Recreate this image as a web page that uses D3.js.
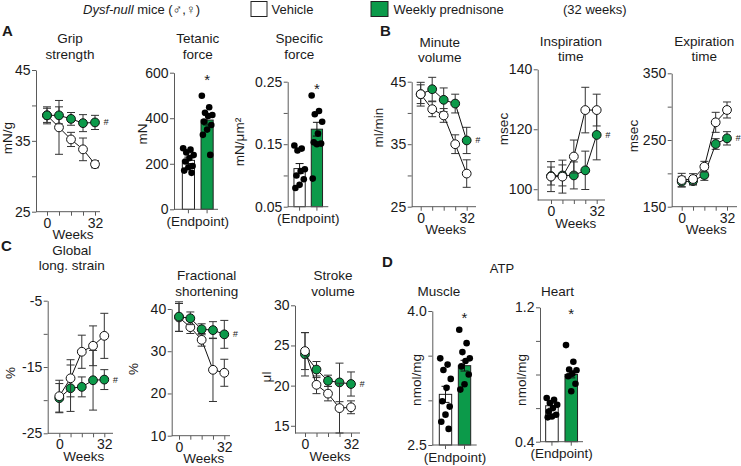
<!DOCTYPE html>
<html><head><meta charset="utf-8">
<script src="https://cdn.jsdelivr.net/npm/d3@7"></script>
<style>
body{margin:0;background:#fff}
svg{display:block}
text{font-family:"Liberation Sans",Arial,Helvetica,sans-serif;fill:#1a1a1a}
</style>
</head><body>
<svg id="c" width="741" height="466"></svg>
<script>
// ---------------- DATA ----------------
const weeks = [0, 8, 16, 24, 32];
const weekLabels = [0, 32];
const groups = ["Vehicle", "Weekly prednisone"];

// Panel A - grip strength (mN/g)
const gripVeh = [38.6, 36.9, 35.2, 33.8, 31.7];
const gripVehErr = [1.2, 3.8, 1.0, 1.6, 0.5];
const gripPred = [38.6, 38.6, 38.1, 37.5, 37.6];
const gripPredErr = [1.0, 1.2, 0.9, 1.2, 1.0];

// Panel A - tetanic force (mN), endpoint
const tetMeans = [215, 392];
const tetErr = [14, 22];
const tetVehPts = [268, 262, 250, 238, 225, 210, 190, 185, 170, 160];
const tetPredPts = [499, 448, 424, 414, 410, 385, 370, 350, 327, 239];

// Panel A - specific force (mN/um2), endpoint
const specMeans = [0.111, 0.174];
const specErr = [0.008, 0.011];
const specVehPts = [0.148, 0.143, 0.140, 0.110, 0.107, 0.100, 0.094, 0.085, 0.080];
const specPredPts = [0.228, 0.203, 0.198, 0.186, 0.167, 0.153, 0.151, 0.150, 0.095];

// Panel B - minute volume (ml/min)
const mvVeh = [43.0, 40.6, 39.6, 35.0, 30.3];
const mvVehErr = [1.9, 1.2, 1.1, 1.5, 2.2];
const mvPred = [43.0, 43.8, 42.1, 41.5, 35.6];
const mvPredErr = [1.5, 1.9, 1.9, 1.5, 2.1];

// Panel B - inspiration time (msec)
const inspVeh = [104.2, 104.2, 110.9, 126.4, 126.4];
const inspVehErr = [5.0, 5.5, 5.5, 7.6, 5.3];
const inspPred = [104.4, 104.6, 104.6, 106.3, 118.1];
const inspPredErr = [3.0, 3.5, 4.5, 6.4, 8.3];

// Panel B - expiration time (msec)
const expVeh = [190, 191.5, 210, 276.5, 295];
const expVehErr = [10, 8, 8, 15, 12];
const expPred = [187.5, 188.5, 197.5, 244, 252.5];
const expPredErr = [8, 6, 8, 8, 10];

// Panel C - global longitudinal strain (%)
const glsVeh = [-19.4, -16.7, -12.7, -11.8, -10.3];
const glsVehErr = [2.4, 2.8, 2.5, 3.0, 3.4];
const glsPred = [-19.7, -18.2, -18.0, -17.0, -16.9];
const glsPredErr = [2.2, 3.5, 1.5, 4.5, 1.5];

// Panel C - fractional shortening (%)
const fsVeh = [38.0, 35.7, 32.7, 25.6, 24.9];
const fsVehErr = [3.3, 1.5, 1.5, 7.5, 3.2];
const fsPred = [38.2, 37.8, 35.2, 35.0, 34.0];
const fsPredErr = [3.5, 1.5, 1.3, 2.0, 3.3];

// Panel C - stroke volume (ul)
const svVeh = [24.3, 20.1, 19.0, 17.2, 17.3];
const svVehErr = [2.3, 1.1, 0.9, 3.1, 0.8];
const svPred = [23.9, 22.0, 20.6, 20.4, 20.2];
const svPredErr = [2.7, 1.0, 0.7, 2.4, 1.5];

// Panel D - ATP muscle / heart (nmol/mg), endpoint
const muscleMeans = [3.067, 3.388];
const muscleErr = [0.09, 0.06];
const muscleVehPts = [3.47, 3.40, 3.34, 3.24, 3.14, 2.99, 2.93, 2.84, 2.76, 2.68];
const musclePredPts = [3.79, 3.64, 3.54, 3.47, 3.44, 3.38, 3.29, 3.18, 3.12];
const heartMeans = [0.614, 0.80];
const heartErr = [0.015, 0.02];
const heartVehPts = [0.66, 0.65, 0.63, 0.62, 0.60, 0.58, 0.56, 0.55, 0.545];
const heartPredPts = [0.975, 0.876, 0.83, 0.825, 0.805, 0.79, 0.745, 0.70];

// ---------------- DRAWING ----------------
const svg = d3.select("#c");
const GREEN = "#0c9a4a";
const AXC = "#5a5a5a";
const FONT = "'Liberation Sans', Arial, Helvetica, sans-serif";

function styleAxis(gg) {
  gg.attr("font-family", null).attr("font-size", null);
  gg.selectAll("path,line").attr("stroke", AXC).attr("stroke-width", 1);
  gg.selectAll("text").attr("fill", "#1a1a1a").style("font-size", "14px").style("font-family", FONT);
}
function txt(x, y, s, size, anchor) {
  return svg.append("text").attr("x", x).attr("y", y).attr("text-anchor", anchor || "middle")
    .style("font-size", size + "px").text(s);
}
function title(lines, x, y, lh) {
  const t = svg.append("text").attr("text-anchor", "middle").style("font-size", "13.5px");
  lines.forEach((l, i) => t.append("tspan").attr("x", x).attr("y", y + i * (lh || 15.5)).text(l));
}
function ylab(s, x, y) {
  svg.append("text").attr("transform", `translate(${x},${y}) rotate(-90)`)
    .attr("text-anchor", "middle").style("font-size", "13.5px").text(s);
}
function yAxis(y, ax, major, minor, fmt) {
  const a = d3.axisLeft(y).tickValues(major.concat(minor)).tickSize(4).tickSizeOuter(0).tickPadding(1.5)
    .tickFormat(d => major.includes(d) ? fmt(d) : "");
  styleAxis(svg.append("g").attr("transform", `translate(${ax},0)`).call(a));
}

function linePanel(c) {
  const y = d3.scaleLinear().domain(c.domain).range([c.yb, c.yt]);
  const x = d3.scaleLinear().domain([0, 32]).range([c.x0, c.x32]);
  title(c.title, (c.x0 + c.x32) / 2 + (c.tdx || 0), c.ty, c.lh);
  ylab(c.ylabel, c.lx, c.ly);
  yAxis(y, c.ax, c.major, c.minor, c.fmt || (d => String(d)));
  svg.append("line").attr("x1", c.ax).attr("x2", c.xr).attr("y1", c.yb).attr("y2", c.yb).attr("stroke", AXC);
  const xa = d3.axisBottom(x).tickValues(weeks).tickSize(4).tickSizeOuter(0).tickPadding(2)
    .tickFormat(d => weekLabels.includes(d) ? String(d) : "");
  const gx = svg.append("g").attr("transform", `translate(0,${c.yb})`).call(xa);
  gx.select(".domain").remove();
  styleAxis(gx);
  txt((c.x0 + c.x32) / 2 + 2, c.yb + (c.wdy || 27.5), "Weeks", 13.5);

  const draw = (vals, errs, fill) => {
    const s = svg.append("g");
    s.selectAll("path.eb").data(vals).join("path").attr("class", "eb")
      .attr("d", (v, i) => {
        const cx = x(weeks[i]), t = y(v + errs[i]), b = y(v - errs[i]);
        return `M${cx},${t}V${b}M${cx - 4},${t}H${cx + 4}M${cx - 4},${b}H${cx + 4}`;
      }).attr("stroke", "#333").attr("fill", "none").attr("stroke-width", 1);
    s.append("path").datum(vals)
      .attr("d", d3.line().x((v, i) => x(weeks[i])).y(v => y(v)))
      .attr("stroke", "#111").attr("fill", "none").attr("stroke-width", 1);
    s.selectAll("circle").data(vals).join("circle")
      .attr("cx", (v, i) => x(weeks[i])).attr("cy", v => y(v)).attr("r", 4.4)
      .attr("fill", fill).attr("stroke", "#111").attr("stroke-width", 1);
  };
  if (c.greenTop) { draw(c.veh, c.vehErr, "#fff"); draw(c.pred, c.predErr, GREEN); }
  else { draw(c.pred, c.predErr, GREEN); draw(c.veh, c.vehErr, "#fff"); }
  const last = c.pred[c.pred.length - 1];
  svg.append("text").attr("x", x(32) + 11).attr("y", y(last) + 3).attr("text-anchor", "middle")
    .style("font-size", "9px").style("font-style", "italic").text("#");
}

function barPanel(c) {
  const y = d3.scaleLinear().domain(c.domain).range([c.yb, c.yt]);
  const x = d3.scaleBand().domain(groups).range(c.br).paddingInner(0.35).paddingOuter(0.2);
  const mid = (x(groups[0]) + x(groups[1]) + x.bandwidth()) / 2;
  title(c.title, mid + (c.tdx || 0), c.ty);
  ylab(c.ylabel, c.lx, c.ly);
  svg.selectAll(null).data(c.means).join("rect")
    .attr("x", (d, i) => x(groups[i])).attr("width", x.bandwidth())
    .attr("y", d => y(d)).attr("height", d => c.yb - y(d))
    .attr("fill", (d, i) => i ? GREEN : "#fff").attr("stroke", "#222").attr("stroke-width", 1);
  svg.selectAll(null).data(c.means).join("path")
    .attr("d", (d, i) => {
      const cx = x(groups[i]) + x.bandwidth() / 2, t = y(d + c.err[i]), b = y(d - c.err[i]);
      return `M${cx},${t}V${b}M${cx - 4},${t}H${cx + 4}M${cx - 4},${b}H${cx + 4}`;
    }).attr("stroke", "#111").attr("fill", "none");
  const jit = i => (((i * 7) % 11) - 5) * 1.05;
  [c.vehPts, c.predPts].forEach((pts, gi) => {
    const cx = x(groups[gi]) + x.bandwidth() / 2;
    svg.selectAll(null).data(pts).join("circle")
      .attr("cx", (d, i) => cx + jit(i)).attr("cy", d => y(d)).attr("r", 3.3).attr("fill", "#000");
  });
  yAxis(y, c.ax, c.major, c.minor, c.fmt || (d => String(d)));
  svg.append("line").attr("x1", c.ax).attr("x2", c.xr).attr("y1", c.yb).attr("y2", c.yb).attr("stroke", AXC);
  groups.forEach(gname => {
    const cx = x(gname) + x.bandwidth() / 2;
    svg.append("line").attr("x1", cx).attr("x2", cx).attr("y1", c.yb).attr("y2", c.yb + 4).attr("stroke", AXC);
  });
  txt(mid, c.yb + 16.5, "(Endpoint)", 13.5);
  svg.append("text").attr("x", x(groups[1]) + x.bandwidth() / 2).attr("y", c.yt + 12)
    .attr("text-anchor", "middle").style("font-size", "15px").text("*");
}

// ----- header legend -----
const hdr = svg.append("text").attr("x", 83).attr("y", 14).style("font-size", "13px");
hdr.append("tspan").style("font-style", "italic").text("Dysf-null");
hdr.append("tspan").text(" mice (\u2642,\u2640)");
svg.append("rect").attr("x", 251).attr("y", 1.5).attr("width", 16).attr("height", 15).attr("fill", "#fff").attr("stroke", "#222");
txt(271.5, 14, groups[0], 13, "start");
svg.append("rect").attr("x", 371).attr("y", 1.5).attr("width", 17).attr("height", 15).attr("fill", GREEN).attr("stroke", "#222");
txt(393.5, 14, groups[1], 13, "start");
txt(563, 14, "(32 weeks)", 13, "start");

// ----- panel letters -----
[["A", 2, 36], ["B", 380, 36], ["C", 1, 251], ["D", 382, 267]].forEach(([l, x, y]) =>
  svg.append("text").attr("x", x).attr("y", y).style("font-size", "15px").style("font-weight", "bold").text(l));

// ----- A -----
linePanel({title: ["Grip", "strength"], ty: 43, tdx: -1, ylabel: "mN/g", lx: 12, ly: 138,
  ax: 36, xr: 100, x0: 47, x32: 95, yt: 70, yb: 211.7, domain: [25, 45], major: [25, 35, 45], minor: [30, 40],
  wdy: 27.3, veh: gripVeh, vehErr: gripVehErr, pred: gripPred, predErr: gripPredErr, greenTop: true});
barPanel({title: ["Tetanic", "force"], ty: 43, ylabel: "mN", lx: 146.5, ly: 134,
  ax: 174, xr: 218, br: [178.6, 216.9], yt: 72.7, yb: 209.3, domain: [0, 600], major: [0, 200, 400, 600], minor: [],
  means: tetMeans, err: tetErr, vehPts: tetVehPts, predPts: tetPredPts});
barPanel({title: ["Specific", "force"], ty: 43, tdx: -9, ylabel: "mN/\u03bcm\u00b2", lx: 243.5, ly: 142,
  ax: 287.7, xr: 328.3, br: [290.5, 326], yt: 81.7, yb: 206.7, domain: [0.05, 0.25], major: [0.05, 0.15, 0.25], minor: [0.10, 0.20],
  fmt: d => d.toFixed(2), means: specMeans, err: specErr, vehPts: specVehPts, predPts: specPredPts});

// ----- B -----
linePanel({title: ["Minute", "volume"], ty: 46.5, tdx: -4, ylabel: "ml/min", lx: 382.5, ly: 127.5,
  ax: 411.7, xr: 476, x0: 420.7, x32: 466.7, yt: 81.7, yb: 206.7, domain: [25, 45], major: [25, 35, 45], minor: [30, 40],
  veh: mvVeh, vehErr: mvVehErr, pred: mvPred, predErr: mvPredErr, greenTop: false});
linePanel({title: ["Inspiration", "time"], ty: 45.5, tdx: -3, ylabel: "msec", lx: 507.5, ly: 129,
  ax: 537.7, xr: 605, x0: 551, x32: 596.7, yt: 69.3, yb: 200, domain: [96.4, 140], major: [100, 120, 140], minor: [],
  veh: inspVeh, vehErr: inspVehErr, pred: inspPred, predErr: inspPredErr, greenTop: false});
linePanel({title: ["Expiration", "time"], ty: 45.5, tdx: 0, ylabel: "msec", lx: 637.5, ly: 136,
  ax: 671.7, xr: 737, x0: 681.7, x32: 727, yt: 73.3, yb: 206.7, domain: [150, 350], major: [150, 250, 350], minor: [200, 300],
  veh: expVeh, vehErr: expVehErr, pred: expPred, predErr: expPredErr, greenTop: false});

// ----- C -----
linePanel({title: ["Global", "long. strain"], ty: 254.5, lh: 15.5, tdx: -10, ylabel: "%", lx: 15, ly: 373,
  ax: 47.7, xr: 113, x0: 59.3, x32: 104.3, yt: 300.7, yb: 433.3, domain: [-25, -5], major: [-25, -15, -5], minor: [-20, -10],
  veh: glsVeh, vehErr: glsVehErr, pred: glsPred, predErr: glsPredErr, greenTop: false});
linePanel({title: ["Fractional", "shortening"], ty: 280, tdx: 5, ylabel: "%", lx: 138, ly: 369,
  ax: 171.7, xr: 230, x0: 179, x32: 224.3, yt: 309, yb: 435.7, domain: [10, 40], major: [10, 20, 30, 40], minor: [],
  veh: fsVeh, vehErr: fsVehErr, pred: fsPred, predErr: fsPredErr, greenTop: true});
linePanel({title: ["Stroke", "volume"], ty: 280, tdx: 5, ylabel: "\u03bcl", lx: 271, ly: 377,
  ax: 295, xr: 360, x0: 305, x32: 351, yt: 305.3, yb: 433, domain: [14.1, 30], major: [15, 20, 25, 30], minor: [],
  veh: svVeh, vehErr: svVehErr, pred: svPred, predErr: svPredErr, greenTop: false});

// ----- D -----
txt(502, 273, "ATP", 13);
barPanel({title: ["Muscle"], ty: 296, tdx: -16, ylabel: "nmol/mg", lx: 421, ly: 380,
  ax: 432.3, xr: 476.7, br: [435.5, 474.5], yt: 311, yb: 445, domain: [2.5, 4.0], major: [2.5, 4.0], minor: [3.0, 3.5],
  fmt: d => d.toFixed(1), means: muscleMeans, err: muscleErr, vehPts: muscleVehPts, predPts: musclePredPts});
barPanel({title: ["Heart"], ty: 296, tdx: -4, ylabel: "nmol/mg", lx: 526, ly: 380,
  ax: 540, xr: 583, br: [541.8, 581.4], yt: 307.3, yb: 441.7, domain: [0.4, 1.2], major: [0.4, 1.2], minor: [0.6, 0.8, 1.0],
  fmt: d => d.toFixed(1), means: heartMeans, err: heartErr, vehPts: heartVehPts, predPts: heartPredPts});
</script>
</body></html>
